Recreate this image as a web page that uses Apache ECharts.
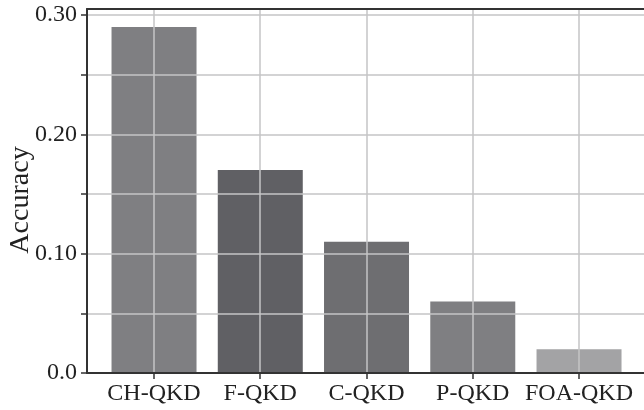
<!DOCTYPE html>
<html>
<head>
<meta charset="utf-8">
<script src="https://cdn.jsdelivr.net/npm/echarts@6/dist/echarts.min.js"></script>
<style>html,body{margin:0;padding:0;background:#fff;}#c{width:644px;height:410px;}</style>
</head>
<body>
<div id="c"></div>
<script>
var categories = ['CH-QKD', 'F-QKD', 'C-QKD', 'P-QKD', 'FOA-QKD'];
var accuracy = [0.29, 0.17, 0.11, 0.06, 0.02];
var yTickValues = [0, 0.05, 0.10, 0.15, 0.20, 0.25, 0.30];
var yLabelValues = [0, 0.10, 0.20, 0.30];
var yLabelTexts = ['0.0', '0.10', '0.20', '0.30'];
var barColors = ['#7f7f82', '#606064', '#6e6e71', '#7f7f82', '#a3a3a5'];

var catIdx = categories.map(function (c, i) { return i; });
var font = 'Liberation Serif';
var yMax = 0.305;

var chart = echarts.init(document.getElementById('c'), null, {renderer: 'canvas'});
chart.setOption({
  animation: false,
  backgroundColor: '#fff',
  grid: [
    {left: 87, top: 9, right: 0, bottom: 37, containLabel: false, outerBoundsMode: 'none'},
    {left: 100.9, top: 9, right: 11.85, bottom: 37, containLabel: false, outerBoundsMode: 'none'}
  ],
  xAxis: [{
    gridIndex: 0,
    type: 'value',
    min: -0.6306,
    max: 4.612,
    z: 5,
    axisLine: {show: true, onZero: false, lineStyle: {color: '#333', width: 2}},
    axisTick: {show: true, customValues: catIdx, length: 6, lineStyle: {color: '#333', width: 1.5}},
    axisLabel: {
      customValues: catIdx,
      color: '#222', fontFamily: font, fontSize: 24, margin: 9,
      formatter: function (v) { return categories[Math.round(v)]; }
    },
    splitLine: {show: true, lineStyle: {color: '#c4c4c6', width: 1.5}}
  }, {
    gridIndex: 0,
    type: 'value', position: 'top', min: -0.6306, max: 4.612, z: 5,
    axisLine: {show: true, onZero: false, lineStyle: {color: '#333', width: 2}},
    axisTick: {show: false}, axisLabel: {show: false}, splitLine: {show: false}
  }, {
    gridIndex: 1,
    type: 'category',
    data: categories,
    show: false
  }],
  yAxis: [{
    gridIndex: 0,
    type: 'value',
    min: 0,
    max: yMax,
    z: 5,
    name: 'Accuracy',
    nameLocation: 'middle',
    nameMoveOverlap: false,
    nameGap: 52,
    nameTextStyle: {color: '#222', fontFamily: font, fontSize: 28, padding: [0, 18, 0, 0]},
    axisLine: {show: true, onZero: false, lineStyle: {color: '#333', width: 2}},
    axisTick: {show: true, customValues: yTickValues, length: 6, lineStyle: {color: '#333', width: 1.5}},
    axisLabel: {
      customValues: yLabelValues,
      color: '#222', fontFamily: font, fontSize: 24, margin: 10,
      formatter: function (v) {
        for (var i = 0; i < yLabelValues.length; i++) {
          if (Math.abs(yLabelValues[i] - v) < 1e-9) return yLabelTexts[i];
        }
        return '';
      }
    },
    splitLine: {show: true, lineStyle: {color: '#c4c4c6', width: 1.5}}
  }, {
    gridIndex: 1,
    type: 'value',
    min: 0,
    max: yMax,
    show: false
  }],
  series: [{
    type: 'bar',
    xAxisIndex: 2,
    yAxisIndex: 1,
    barWidth: '80%',
    z: 2,
    data: accuracy.map(function (v, i) {
      return {value: v, itemStyle: {color: barColors[i]}};
    })
  }]
});
</script>
</body>
</html>
